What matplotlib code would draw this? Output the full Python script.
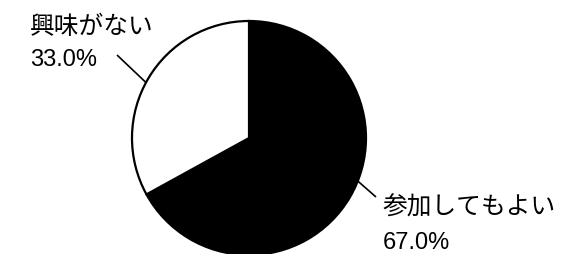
import numpy as np
import matplotlib
matplotlib.use("Agg")
import matplotlib.pyplot as plt

labels = ["参加してもよい", "興味がない"]
values = [67.0, 33.0]
colors = ["#000000", "#ffffff"]

W, H = 563, 254
fig = plt.figure(figsize=(W / 100, H / 100), dpi=100)
ax = fig.add_axes([0, 0, 1, 1])
cx, cy, r = 249, 116, 117
wedges, _ = ax.pie(values, colors=colors, startangle=90, counterclock=False,
                   center=(cx, cy), radius=r, frame=True,
                   wedgeprops=dict(edgecolor="black", linewidth=1.6))
ax.set_xlim(0, W)
ax.set_ylim(0, H)
ax.set_aspect("equal")
ax.axis("off")

cjk = ["Noto Sans CJK JP", "DejaVu Sans"]
num = ["Liberation Sans", "DejaVu Sans"]

layout = {
    "参加してもよい": dict(tx=383, ty=39, px=383, py=5, ang=-21.6, end=(376, 57)),
    "興味がない": dict(tx=30, ty=220, px=30, py=188, ang=151.7, end=(117, 199)),
}
for lab, val in zip(labels, values):
    L = layout[lab]
    ax.text(L["tx"], L["ty"], lab, family=cjk, fontsize=17.8, va="baseline", ha="left")
    ax.text(L["px"], L["py"], f"{val:.1f}%", family=num, fontsize=17, va="baseline", ha="left")
    a = np.deg2rad(L["ang"])
    x0, y0 = cx + r * np.cos(a), cy + r * np.sin(a)
    ax.plot([x0, L["end"][0]], [y0, L["end"][1]], color="black", lw=1.2, solid_capstyle="butt")

fig.savefig("out.png", dpi=100)
